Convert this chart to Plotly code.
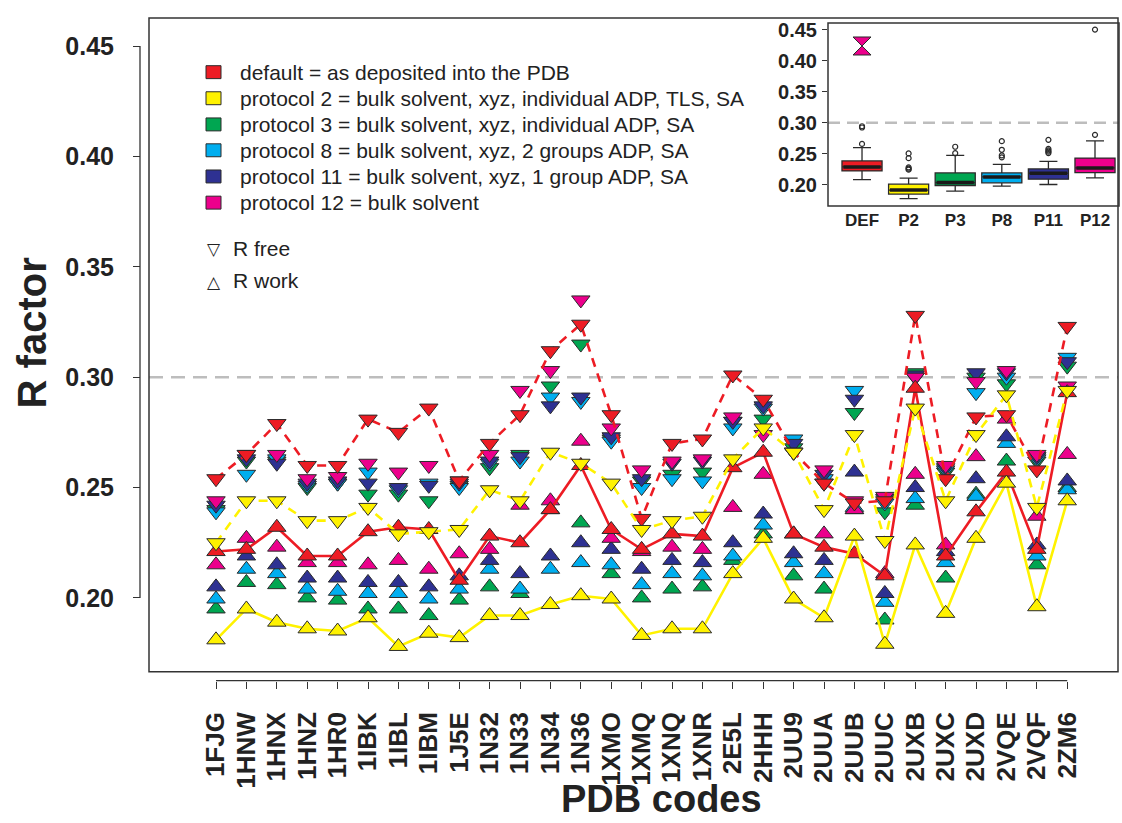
import plotly.graph_objects as go

# ---------------------------------------------------------------- data
codes = ["1FJG", "1HNW", "1HNX", "1HNZ", "1HR0", "1IBK", "1IBL", "1IBM", "1J5E",
         "1N32", "1N33", "1N34", "1N36", "1XMO", "1XMQ", "1XNQ", "1XNR", "2E5L",
         "2HHH", "2UU9", "2UUA", "2UUB", "2UUC", "2UXB", "2UXC", "2UXD", "2VQE",
         "2VQF", "2ZM6"]

# default = as deposited
def_free = [0.254, 0.265, 0.279, 0.260, 0.260, 0.281, 0.275, 0.286, 0.253, 0.270,
            0.283, 0.312, 0.324, 0.283, 0.236, 0.270, 0.272, 0.301, 0.290, 0.266,
            0.252, 0.243, 0.244, 0.328, 0.254, 0.282, 0.283, 0.258, 0.323]
def_work = [0.221, 0.222, 0.232, 0.219, 0.219, 0.230, 0.232, 0.231, 0.208, 0.228,
            0.225, 0.240, 0.260, 0.231, 0.222, 0.229, 0.228, 0.259, 0.266, 0.229,
            0.223, 0.220, 0.210, 0.295, 0.219, 0.239, 0.257, 0.222, 0.293]
# protocol 2
p2_free = [0.225, 0.244, 0.244, 0.235, 0.235, 0.241, 0.229, 0.230, 0.231, 0.249,
           0.244, 0.266, 0.261, 0.252, 0.231, 0.235, 0.237, 0.263, 0.277, 0.266,
           0.240, 0.274, 0.226, 0.286, 0.244, 0.274, 0.292, 0.241, 0.294]
p2_work = [0.181, 0.195, 0.189, 0.186, 0.185, 0.191, 0.178, 0.184, 0.182, 0.192,
           0.192, 0.197, 0.201, 0.1995, 0.183, 0.186, 0.186, 0.211, 0.227, 0.1995,
           0.191, 0.228, 0.179, 0.224, 0.193, 0.227, 0.252, 0.196, 0.244]
# protocol 3
p3_free = [0.240, 0.262, 0.262, 0.250, 0.252, 0.247, 0.247, 0.244, 0.251, 0.259,
           0.265, 0.296, 0.315, 0.272, 0.253, 0.256, 0.257, 0.280, 0.281, 0.268,
           0.252, 0.284, 0.239, 0.302, 0.257, 0.300, 0.297, 0.262, 0.305]
p3_work = [0.195, 0.207, 0.206, 0.200, 0.199, 0.195, 0.195, 0.192, 0.199, 0.205,
           0.202, 0.240, 0.234, 0.211, 0.200, 0.204, 0.205, 0.217, 0.229, 0.210,
           0.204, 0.240, 0.190, 0.242, 0.209, 0.247, 0.262, 0.215, 0.250]
# protocol 8
p8_free = [0.239, 0.256, 0.263, 0.251, 0.252, 0.257, 0.249, 0.252, 0.250, 0.261,
           0.262, 0.291, 0.289, 0.271, 0.250, 0.254, 0.253, 0.277, 0.286, 0.272,
           0.254, 0.294, 0.243, 0.300, 0.258, 0.293, 0.300, 0.263, 0.309]
p8_work = [0.1995, 0.213, 0.211, 0.204, 0.203, 0.202, 0.202, 0.1995, 0.204, 0.213,
           0.204, 0.213, 0.216, 0.215, 0.206, 0.211, 0.210, 0.219, 0.233, 0.216,
           0.211, 0.241, 0.198, 0.245, 0.216, 0.246, 0.270, 0.219, 0.249]
# protocol 11
p11_free = [0.242, 0.263, 0.261, 0.252, 0.253, 0.252, 0.250, 0.251, 0.252, 0.262,
            0.264, 0.287, 0.291, 0.273, 0.254, 0.261, 0.262, 0.280, 0.287, 0.270,
            0.256, 0.290, 0.245, 0.301, 0.259, 0.302, 0.302, 0.264, 0.307]
p11_work = [0.205, 0.219, 0.215, 0.209, 0.209, 0.207, 0.207, 0.205, 0.210, 0.217,
            0.211, 0.219, 0.225, 0.222, 0.213, 0.217, 0.216, 0.225, 0.238, 0.220,
            0.217, 0.257, 0.202, 0.250, 0.221, 0.254, 0.273, 0.224, 0.253]
# protocol 12
p12_free = [0.244, 0.265, 0.265, 0.254, 0.255, 0.261, 0.257, 0.260, 0.253, 0.265,
            0.294, 0.303, 0.335, 0.277, 0.258, 0.262, 0.263, 0.282, 0.274, 0.266,
            0.258, 0.244, 0.246, 0.300, 0.260, 0.298, 0.303, 0.265, 0.296]
p12_work = [0.215, 0.227, 0.223, 0.216, 0.216, 0.215, 0.217, 0.213, 0.220, 0.222,
            0.242, 0.244, 0.271, 0.227, 0.221, 0.223, 0.222, 0.241, 0.256, 0.229,
            0.229, 0.240, 0.211, 0.256, 0.224, 0.264, 0.281, 0.237, 0.265]

# inset box plot summary per protocol
box_labels = ["DEF", "P2", "P3", "P8", "P11", "P12"]
box_q1 = [0.2224, 0.1850, 0.1989, 0.2032, 0.2091, 0.2198]
box_median = [0.2288, 0.1915, 0.2037, 0.2128, 0.2187, 0.2272]
box_q3 = [0.2385, 0.2011, 0.2192, 0.2192, 0.2256, 0.2432]
box_low = [0.2085, 0.1776, 0.1899, 0.1979, 0.2005, 0.2112]
box_high = [0.2600, 0.2107, 0.2475, 0.2331, 0.2379, 0.2710]
box_outliers = [
    [0.266, 0.2925, 0.2945],
    [0.2245, 0.226, 0.228, 0.243, 0.2507],
    [0.251, 0.2614],
    [0.2443, 0.2475, 0.2565, 0.2705],
    [0.2513, 0.2535, 0.2555, 0.258, 0.2726],
    [0.2806, 0.4505],
]
hourglass_value = [0.424]

legend_labels = [
    "default = as deposited into the PDB",
    "protocol 2 = bulk solvent, xyz, individual ADP, TLS, SA",
    "protocol 3 = bulk solvent, xyz, individual ADP, SA",
    "protocol 8 = bulk solvent, xyz, 2 groups ADP, SA",
    "protocol 11 = bulk solvent, xyz, 1 group ADP, SA",
    "protocol 12 = bulk solvent",
]

# ---------------------------------------------------------------- style
RED, YELLOW, GREEN = "#ED1C24", "#FFF200", "#00A651"
CYAN, NAVY, MAGENTA = "#00AEEF", "#2E3192", "#EC008C"
box_colors = [RED, YELLOW, GREEN, CYAN, NAVY, MAGENTA]
EDGE = "#2a2a2a"
FONT = "Liberation Sans, Arial, Helvetica, sans-serif"

W, H = 1122, 823


def fx(p):
    return p / W


def fy(p):
    return 1 - p / H


xs = list(range(len(codes)))
MS = 16

fig = go.Figure()


def tri(ys, color, down):
    fig.add_trace(go.Scatter(
        x=xs, y=ys, mode="markers", showlegend=False, hoverinfo="skip",
        marker=dict(symbol="triangle-down" if down else "triangle-up", size=MS,
                    color=color, line=dict(color=EDGE, width=1))))


def line(ys, color, dashed):
    fig.add_trace(go.Scatter(
        x=xs, y=ys, mode="lines", showlegend=False, hoverinfo="skip",
        line=dict(color=color, width=2.6, dash="9px,7px" if dashed else "solid")))


for free, work, col in [(p3_free, p3_work, GREEN), (p8_free, p8_work, CYAN),
                        (p11_free, p11_work, NAVY), (p12_free, p12_work, MAGENTA)]:
    tri(free, col, True)
    tri(work, col, False)

line(def_free, RED, True)
line(def_work, RED, False)
tri(def_free, RED, True)
tri(def_work, RED, False)
line(p2_free, YELLOW, True)
line(p2_work, YELLOW, False)
tri(p2_free, YELLOW, True)
tri(p2_work, YELLOW, False)

# ---------------------------------------------------------------- inset boxes
bw = 0.86
for i, lab in enumerate(box_labels):
    fig.add_trace(go.Box(
        x=[i], q1=[box_q1[i]], median=[box_median[i]], q3=[box_q3[i]],
        lowerfence=[box_low[i]], upperfence=[box_high[i]],
        width=bw, whiskerwidth=0.45, boxpoints=False, fillcolor=box_colors[i],
        line=dict(color=EDGE, width=1.3), showlegend=False, hoverinfo="skip",
        xaxis="x2", yaxis="y2"))
    fig.add_trace(go.Scatter(
        x=[i - bw / 2 + 0.03, i + bw / 2 - 0.03], y=[box_median[i]] * 2,
        mode="lines", line=dict(color="#1a1a1a", width=3.5), showlegend=False,
        hoverinfo="skip", xaxis="x2", yaxis="y2"))
    fig.add_trace(go.Scatter(
        x=[i] * len(box_outliers[i]), y=box_outliers[i], mode="markers",
        marker=dict(symbol="circle-open", size=5, color=EDGE, line=dict(width=1.2)),
        showlegend=False, hoverinfo="skip", xaxis="x2", yaxis="y2"))

fig.add_trace(go.Scatter(
    x=[0], y=hourglass_value, mode="markers", showlegend=False, hoverinfo="skip",
    marker=dict(symbol="hourglass", size=18, color=MAGENTA, line=dict(color=EDGE, width=1)),
    xaxis="x2", yaxis="y2"))

# ---------------------------------------------------------------- shapes
shapes = [
    # reference line at R = 0.30 (main panel)
    dict(type="line", xref="paper", yref="y", x0=fx(149), x1=fx(1118), y0=0.30, y1=0.30,
         line=dict(color="#bdbdbd", width=2.5, dash="14px,8px"), layer="below"),
    # main frame
    dict(type="rect", xref="paper", yref="paper", x0=fx(149), x1=fx(1118),
         y0=fy(671), y1=fy(14), line=dict(color="#333", width=1.5)),
    # detached axis lines
    dict(type="line", xref="paper", yref="y", x0=fx(140), x1=fx(140), y0=0.20, y1=0.45,
         line=dict(color="#333", width=1.3)),
    dict(type="line", xref="x", yref="paper", x0=0, x1=len(codes) - 1,
         y0=fy(680), y1=fy(680), line=dict(color="#333", width=1.3)),
    # inset background, reference line and frame
    dict(type="rect", xref="paper", yref="paper", x0=fx(828), x1=fx(1119),
         y0=fy(203), y1=fy(19), fillcolor="white", line=dict(width=0), layer="below"),
    dict(type="line", xref="x2 domain", yref="y2", x0=0, x1=1, y0=0.30, y1=0.30,
         line=dict(color="#bdbdbd", width=2.5, dash="12px,7px"), layer="below"),
    dict(type="rect", xref="paper", yref="paper", x0=fx(828), x1=fx(1119),
         y0=fy(203), y1=fy(19), line=dict(color="#333", width=1.5)),
]

annotations = []
row_y = [68.5, 94.7, 121, 147, 173.3, 199.6]
for ly, lab, col in zip(row_y, legend_labels, box_colors):
    shapes.append(dict(type="rect", xref="paper", yref="paper",
                       x0=fx(206), x1=fx(221), y0=fy(ly + 6.5), y1=fy(ly - 6.5),
                       fillcolor=col, line=dict(color=EDGE, width=1)))
    annotations.append(dict(xref="paper", yref="paper", x=fx(238), y=fy(ly),
                            text=lab, showarrow=False, xanchor="left", yanchor="middle",
                            font=dict(family=FONT, size=21, color="#222")))

for ly, glyph, lab in [(246.5, "\u25bd", "R free"), (279, "\u25b3", "R work")]:
    annotations.append(dict(xref="paper", yref="paper", x=fx(214), y=fy(ly),
                            text=glyph, showarrow=False, xanchor="center", yanchor="middle",
                            font=dict(family="DejaVu Sans", size=17, color="#222")))
    annotations.append(dict(xref="paper", yref="paper", x=fx(231), y=fy(ly - 1),
                            text=lab, showarrow=False, xanchor="left", yanchor="middle",
                            font=dict(family=FONT, size=21, color="#222")))

annotations.append(dict(xref="paper", yref="paper", x=fx(32), y=fy(331),
                        text="R factor", showarrow=False, textangle=-90,
                        xanchor="center", yanchor="middle",
                        font=dict(family=FONT, size=40, color="#222", weight="bold")))
annotations.append(dict(xref="paper", yref="paper", x=fx(661), y=fy(799),
                        text="PDB codes", showarrow=False,
                        xanchor="center", yanchor="middle",
                        font=dict(family=FONT, size=38, color="#222", weight="bold")))

yticks = [0.20, 0.25, 0.30, 0.35, 0.40, 0.45]
ytext = [f"{v:.2f}" for v in yticks]

fig.update_layout(
    width=W, height=H, margin=dict(l=0, r=0, t=0, b=0),
    paper_bgcolor="white", plot_bgcolor="rgba(0,0,0,0)",
    shapes=shapes, annotations=annotations, showlegend=False,
    xaxis=dict(domain=[fx(149), fx(1118)], range=[-2.204, 29.67],
               anchor="free", position=fy(680),
               tickmode="array", tickvals=xs, ticktext=codes, tickangle=-90,
               ticks="outside", ticklen=7, tickwidth=1.3, tickcolor="#333",
               ticklabelstandoff=13, showline=False, showgrid=False, zeroline=False,
               tickfont=dict(family=FONT, size=26, color="#222", weight="bold")),
    yaxis=dict(domain=[fy(671), fy(14)], range=[0.16655, 0.46276],
               anchor="free", position=fx(140),
               tickmode="array", tickvals=yticks, ticktext=ytext,
               ticks="outside", ticklen=7, tickwidth=1.3, tickcolor="#333",
               ticklabelstandoff=14, showline=False, showgrid=False, zeroline=False,
               tickfont=dict(family=FONT, size=25, color="#222", weight="bold")),
    xaxis2=dict(domain=[fx(828), fx(1119)], range=[-0.73, 5.515], anchor="y2",
                tickmode="array", tickvals=list(range(len(box_labels))), ticktext=box_labels,
                ticks="", ticklabelstandoff=2, showline=False, showgrid=False, zeroline=False,
                tickfont=dict(family=FONT, size=17, color="#222", weight="bold")),
    yaxis2=dict(domain=[fy(203), fy(19)], range=[0.1658, 0.46124], anchor="x2",
                tickmode="array", tickvals=yticks, ticktext=ytext,
                ticks="outside", ticklen=5, tickwidth=1.2, tickcolor="#333",
                ticklabelstandoff=1, showline=False, showgrid=False, zeroline=False,
                tickfont=dict(family=FONT, size=20, color="#222", weight="bold")),
)

fig.write_html("out.html")
